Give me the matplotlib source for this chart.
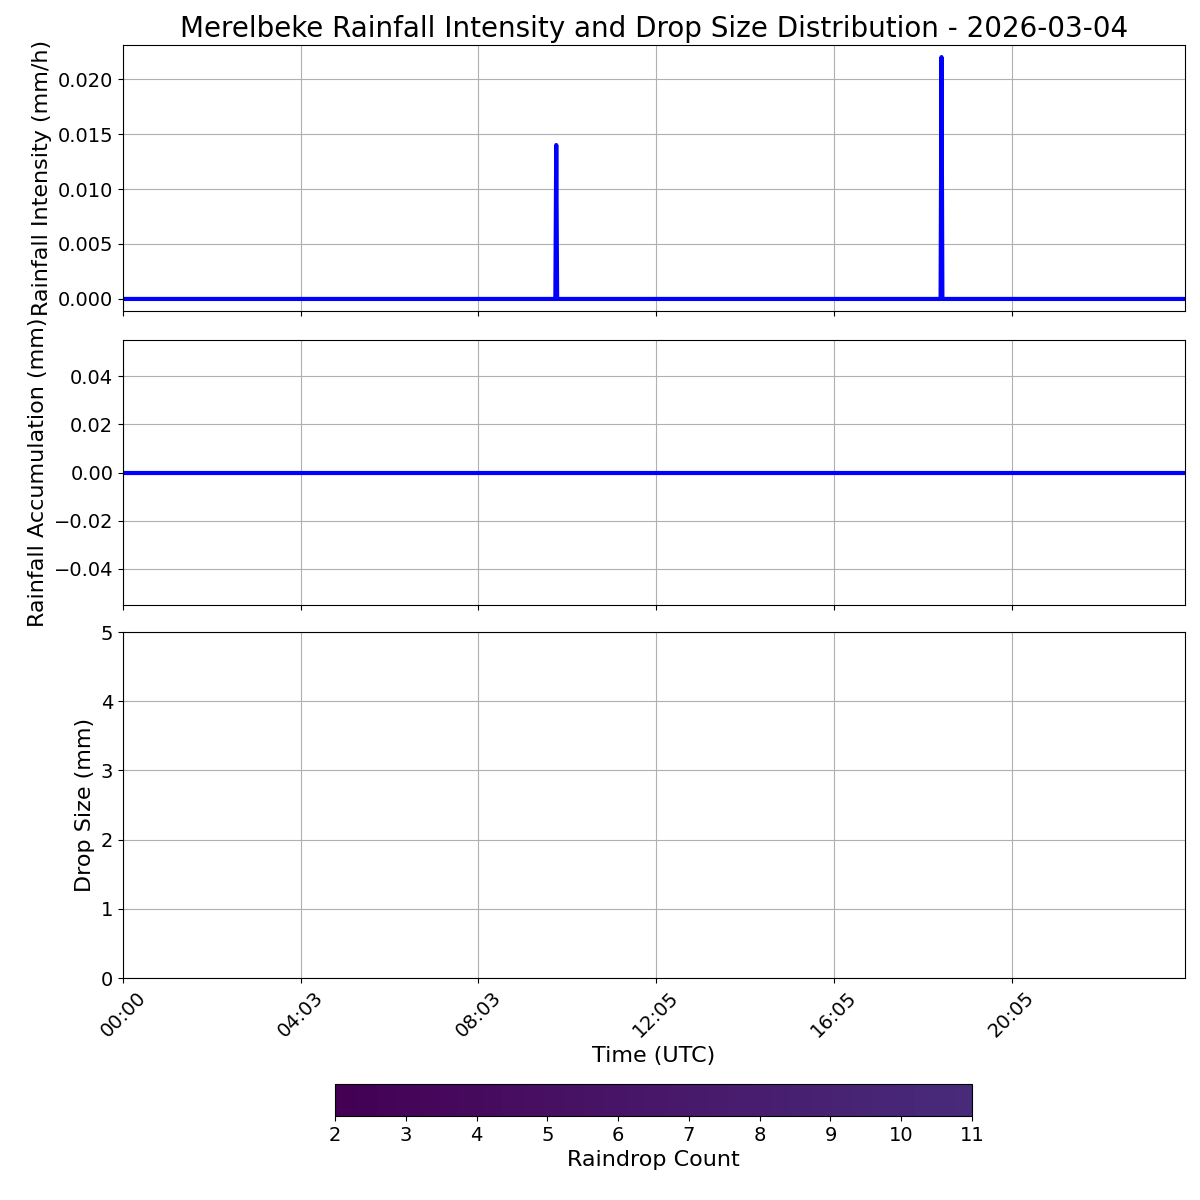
import numpy as np
import matplotlib
matplotlib.use("Agg")
import matplotlib.pyplot as plt
from matplotlib.colors import ListedColormap, Normalize
from matplotlib.cm import ScalarMappable


##################################
# Data (hours since midnight UTC)
##################################
time_hours = [0.0, 9.73, 9.75, 9.77, 18.40, 18.42, 18.44, 23.9]
intensity = [0.0, 0.0, 0.014, 0.0, 0.0, 0.022, 0.0, 0.0]
accumulation = [0.0, 0.0, 0.0, 0.0, 0.0, 0.0, 0.0, 0.0]

tick_hours = [0, 4, 8, 12, 16, 20]
tick_labels = ["00:00", "04:03", "08:03", "12:05", "16:05", "20:05"]

count_min = 2
count_max = 11


##################################
# Figure layout
##################################
fig = plt.figure(figsize=(12, 12), dpi=100)
ax1 = fig.add_axes([0.1025, 0.7408, 0.885, 0.2217])
ax2 = fig.add_axes([0.1025, 0.4958, 0.885, 0.2208], sharex=ax1)
ax3 = fig.add_axes([0.1025, 0.185, 0.885, 0.2883], sharex=ax1)
cax = fig.add_axes([0.2792, 0.07, 0.5308, 0.0267])

# Rainfall intensity
ax1.plot(time_hours, intensity, color="blue", linewidth=3)
ax1.set_ylabel("Rainfall Intensity (mm/h)", fontsize=16)
ax1.set_title("Merelbeke Rainfall Intensity and Drop Size Distribution - 2026-03-04",
              fontsize=20)
ax1.grid(True)
ax1.tick_params(labelsize=14, labelbottom=False)

# Rainfall accumulation
ax2.plot(time_hours, accumulation, color="blue", linewidth=3)
ax2.set_ylabel("Rainfall Accumulation (mm)", fontsize=16)
ax2.grid(True)
ax2.tick_params(labelsize=14, labelbottom=False)

# Drop size distribution (no drops recorded)
ax3.set_ylim(0, 5)
ax3.set_ylabel("Drop Size (mm)", fontsize=16)
ax3.set_xlabel("Time (UTC)", fontsize=16)
ax3.grid(True)
ax3.tick_params(labelsize=14)

ax3.set_xlim(time_hours[0], time_hours[-1])
ax3.set_xticks(tick_hours)
ax3.set_xticklabels(tick_labels, rotation=45)

# Colorbar
cmap = ListedColormap(plt.get_cmap("viridis")(np.linspace(0, 0.12, 256)))
sm = ScalarMappable(norm=Normalize(count_min, count_max), cmap=cmap)
cb = fig.colorbar(sm, cax=cax, orientation="horizontal")
cb.set_label("Raindrop Count", fontsize=16)
cb.ax.tick_params(labelsize=14)
cb.set_ticks(list(range(count_min, count_max + 1)))

plt.savefig("out.png", dpi=100)
